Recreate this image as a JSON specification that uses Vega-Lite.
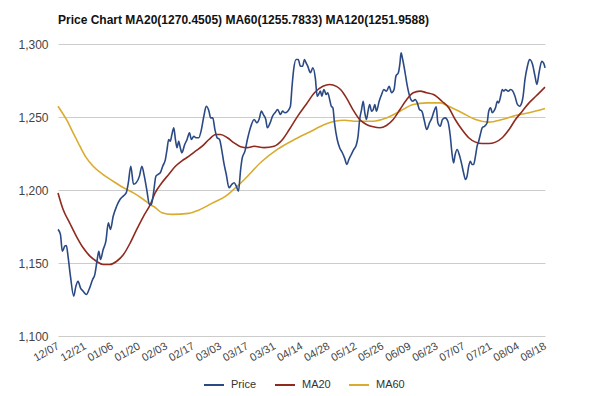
{
  "$schema": "https://vega.github.io/schema/vega-lite/v6.json",
  "width": 487,
  "height": 292,
  "autosize": {"type": "none"},
  "padding": {"left": 58, "top": 44, "right": 55, "bottom": 60},
  "background": "white",
  "title": {
    "text": "Price Chart MA20(1270.4505) MA60(1255.7833) MA120(1251.9588)",
    "anchor": "start",
    "frame": "group",
    "font": "Liberation Sans",
    "fontSize": 12,
    "fontWeight": "bold",
    "color": "#111111",
    "offset": 11
  },
  "config": {
    "view": {"stroke": null},
    "font": "Liberation Sans"
  },
  "datasets": {
    "price": [
      {"i":0,"v":1173},{"i":0.9,"v":1169.6},{"i":1.6,"v":1158},{"i":2.5,"v":1161.5},{"i":3.1,"v":1162},{"i":3.7,"v":1154.7},{"i":4.6,"v":1141},{"i":5.8,"v":1127.3},{"i":6.6,"v":1134},{"i":7.4,"v":1137.5},{"i":8.3,"v":1133},{"i":9.3,"v":1130.7},{"i":10.5,"v":1128.4},{"i":11.5,"v":1132},{"i":12.8,"v":1138.7},{"i":13.6,"v":1142},{"i":14.5,"v":1152.4},{"i":15.1,"v":1158},{"i":15.7,"v":1152.4},{"i":16.7,"v":1159.2},{"i":17.7,"v":1165},{"i":18.6,"v":1177.5},{"i":19.4,"v":1173},{"i":20.4,"v":1182},{"i":21.7,"v":1189},{"i":22.9,"v":1193.5},{"i":24.2,"v":1196},{"i":25.2,"v":1198},{"i":26,"v":1205},{"i":26.9,"v":1216.3},{"i":27.9,"v":1204},{"i":28.9,"v":1205},{"i":30.1,"v":1209.5},{"i":31,"v":1216.3},{"i":31.9,"v":1209.5},{"i":32.8,"v":1200.3},{"i":33.8,"v":1190},{"i":34.5,"v":1190},{"i":35.3,"v":1198},{"i":36.2,"v":1209.5},{"i":36.9,"v":1210.6},{"i":37.8,"v":1211.8},{"i":38.7,"v":1216.3},{"i":39.7,"v":1221},{"i":40.3,"v":1227.7},{"i":40.9,"v":1234.6},{"i":41.5,"v":1233.4},{"i":42.1,"v":1238},{"i":42.8,"v":1242.6},{"i":43.4,"v":1234.6},{"i":44,"v":1229},{"i":44.6,"v":1233.4},{"i":45.2,"v":1229},{"i":45.8,"v":1225.5},{"i":46.8,"v":1231},{"i":47.7,"v":1234.6},{"i":48.6,"v":1239.2},{"i":49.3,"v":1234.6},{"i":50.2,"v":1236.8},{"i":51,"v":1235.8},{"i":52,"v":1235.8},{"i":53,"v":1241.4},{"i":53.9,"v":1250.5},{"i":54.8,"v":1257.4},{"i":55.8,"v":1254},{"i":56.4,"v":1249.4},{"i":57.2,"v":1249.4},{"i":58,"v":1241.4},{"i":58.8,"v":1235.8},{"i":59.7,"v":1234.6},{"i":60.5,"v":1227.7},{"i":61.3,"v":1218.6},{"i":62.2,"v":1210.6},{"i":63.2,"v":1201.5},{"i":64.2,"v":1203.8},{"i":65.1,"v":1205},{"i":65.9,"v":1202.6},{"i":66.7,"v":1199.2},{"i":67.5,"v":1214},{"i":68.1,"v":1222},{"i":69.1,"v":1226.6},{"i":70,"v":1234.6},{"i":71.3,"v":1243.7},{"i":72.5,"v":1248.3},{"i":73.5,"v":1246},{"i":74.3,"v":1248.3},{"i":75.2,"v":1254},{"i":75.9,"v":1251.7},{"i":76.8,"v":1248.3},{"i":77.4,"v":1242.6},{"i":78.4,"v":1246},{"i":79.3,"v":1250.6},{"i":80.2,"v":1252.9},{"i":81.2,"v":1255.1},{"i":82.2,"v":1251.7},{"i":83,"v":1254},{"i":83.9,"v":1252.9},{"i":84.9,"v":1254},{"i":85.9,"v":1257.4},{"i":86.5,"v":1271},{"i":87.1,"v":1282.5},{"i":88,"v":1289.4},{"i":88.8,"v":1289.4},{"i":89.6,"v":1284.8},{"i":90.4,"v":1284.8},{"i":91.1,"v":1289.4},{"i":91.7,"v":1287.1},{"i":92.3,"v":1284.8},{"i":93.3,"v":1280.3},{"i":94.2,"v":1283.7},{"i":95.1,"v":1276.8},{"i":95.8,"v":1264.2},{"i":96.3,"v":1265.4},{"i":97,"v":1267.7},{"i":97.5,"v":1264.2},{"i":98.3,"v":1268.8},{"i":99.1,"v":1265.4},{"i":99.7,"v":1266.6},{"i":100.4,"v":1262},{"i":101,"v":1257.4},{"i":101.6,"v":1256.3},{"i":102.2,"v":1246},{"i":103.2,"v":1234.6},{"i":104.1,"v":1229},{"i":105.1,"v":1225.5},{"i":105.9,"v":1222},{"i":106.8,"v":1217.5},{"i":107.5,"v":1220.9},{"i":108.4,"v":1224.3},{"i":109.3,"v":1227.7},{"i":110.3,"v":1231.2},{"i":110.9,"v":1236.8},{"i":111.5,"v":1248.3},{"i":112.2,"v":1255.1},{"i":112.8,"v":1260.8},{"i":113.4,"v":1252.9},{"i":114,"v":1248.3},{"i":114.6,"v":1254},{"i":115.2,"v":1258.6},{"i":115.9,"v":1254},{"i":116.5,"v":1255.1},{"i":117.1,"v":1258.6},{"i":117.7,"v":1254},{"i":118.7,"v":1260.8},{"i":119.6,"v":1265.4},{"i":120.4,"v":1268.8},{"i":121.4,"v":1267.7},{"i":122.4,"v":1271},{"i":123.3,"v":1266.6},{"i":124.2,"v":1268.8},{"i":124.9,"v":1278},{"i":125.8,"v":1280.3},{"i":126.4,"v":1287.1},{"i":126.8,"v":1294},{"i":127.4,"v":1289.4},{"i":128.3,"v":1280.3},{"i":128.9,"v":1273.4},{"i":129.5,"v":1267.7},{"i":130.4,"v":1262},{"i":131.1,"v":1260.8},{"i":132,"v":1262},{"i":132.8,"v":1259.7},{"i":133.6,"v":1255.1},{"i":134.5,"v":1254},{"i":135.3,"v":1248.3},{"i":136.3,"v":1241.4},{"i":137.3,"v":1246},{"i":138.2,"v":1249.4},{"i":139,"v":1254},{"i":139.8,"v":1257},{"i":140.4,"v":1246},{"i":141.3,"v":1243.7},{"i":142.1,"v":1248.3},{"i":143.1,"v":1249.4},{"i":144.1,"v":1247.1},{"i":145,"v":1236.8},{"i":145.6,"v":1225.5},{"i":146.2,"v":1218.6},{"i":146.8,"v":1224.3},{"i":147.5,"v":1227.7},{"i":148.3,"v":1224.3},{"i":149.1,"v":1218.6},{"i":149.9,"v":1211.8},{"i":150.6,"v":1207.2},{"i":151.2,"v":1209.5},{"i":151.8,"v":1216.3},{"i":152.4,"v":1219.7},{"i":153,"v":1217.5},{"i":153.6,"v":1217.5},{"i":154.3,"v":1223.2},{"i":154.9,"v":1230},{"i":155.5,"v":1233.4},{"i":156.1,"v":1238},{"i":156.8,"v":1242.6},{"i":157.7,"v":1243.7},{"i":158.6,"v":1246},{"i":159.2,"v":1254},{"i":159.9,"v":1256.3},{"i":160.5,"v":1252.9},{"i":161.1,"v":1254},{"i":161.7,"v":1256.3},{"i":162.4,"v":1260.8},{"i":162.9,"v":1259.7},{"i":163.6,"v":1264.2},{"i":164.2,"v":1268.8},{"i":164.8,"v":1267.7},{"i":165.4,"v":1268.8},{"i":166.4,"v":1267.7},{"i":167.3,"v":1268.8},{"i":168.1,"v":1267.7},{"i":168.9,"v":1264.2},{"i":169.8,"v":1258.6},{"i":170.6,"v":1257.4},{"i":171.4,"v":1259.7},{"i":171.9,"v":1264.2},{"i":172.6,"v":1275.7},{"i":173.5,"v":1284.8},{"i":174.3,"v":1289.4},{"i":175.4,"v":1286},{"i":176.3,"v":1278},{"i":177,"v":1272.3},{"i":177.8,"v":1280.3},{"i":178.8,"v":1288.2},{"i":179.7,"v":1286},{"i":180,"v":1283.7}
    ],
    "ma20": [
      {"i":0,"v":1198},{"i":1.9,"v":1186.6},{"i":4.3,"v":1177.5},{"i":6.8,"v":1168.3},{"i":9.3,"v":1160.4},{"i":11.8,"v":1154.7},{"i":14.2,"v":1151.2},{"i":16.7,"v":1149},{"i":19.2,"v":1149},{"i":21.7,"v":1151.2},{"i":24.2,"v":1155.8},{"i":26.7,"v":1163.8},{"i":29.1,"v":1173},{"i":31.6,"v":1182},{"i":34.1,"v":1190},{"i":35.9,"v":1198},{"i":38.4,"v":1205},{"i":40.9,"v":1210.6},{"i":43.4,"v":1216.3},{"i":45.8,"v":1220},{"i":48.3,"v":1223},{"i":50.8,"v":1226.6},{"i":53.3,"v":1230},{"i":55.8,"v":1234.6},{"i":58.3,"v":1238},{"i":60.1,"v":1238},{"i":62.6,"v":1235.8},{"i":65.1,"v":1232.3},{"i":67.5,"v":1229.6},{"i":70,"v":1229},{"i":72.5,"v":1230},{"i":76.2,"v":1229},{"i":79.9,"v":1230},{"i":83,"v":1234.6},{"i":85.5,"v":1241.4},{"i":88.6,"v":1250.6},{"i":91.7,"v":1258.6},{"i":94.8,"v":1266.6},{"i":97.9,"v":1271},{"i":100.4,"v":1272.3},{"i":102.9,"v":1271},{"i":104.6,"v":1268.5},{"i":106.6,"v":1263.1},{"i":109,"v":1255.1},{"i":111.5,"v":1248.3},{"i":114,"v":1244.9},{"i":116.5,"v":1243.3},{"i":119,"v":1242.6},{"i":121.4,"v":1244.2},{"i":123.9,"v":1248.3},{"i":126.4,"v":1255.1},{"i":128.9,"v":1262},{"i":131.3,"v":1266.6},{"i":133.8,"v":1267.7},{"i":136.3,"v":1266.6},{"i":138.8,"v":1265.4},{"i":141.9,"v":1260.8},{"i":144.4,"v":1256.3},{"i":146.8,"v":1248.3},{"i":149.3,"v":1241.4},{"i":151.8,"v":1235.8},{"i":154.3,"v":1232.8},{"i":156.8,"v":1231.8},{"i":159.2,"v":1231.8},{"i":161.7,"v":1232.8},{"i":164.2,"v":1235.8},{"i":166.7,"v":1241.4},{"i":169.1,"v":1248.3},{"i":171.6,"v":1254},{"i":174.1,"v":1259.7},{"i":176.6,"v":1264.2},{"i":180,"v":1270.5}
    ],
    "ma60": [
      {"i":0,"v":1257.4},{"i":3.1,"v":1248.3},{"i":5.6,"v":1239.2},{"i":8.1,"v":1230},{"i":10.5,"v":1222},{"i":13,"v":1216.3},{"i":16.7,"v":1210.6},{"i":20.4,"v":1206},{"i":24.2,"v":1201.5},{"i":27.9,"v":1198},{"i":31.6,"v":1193.5},{"i":34.1,"v":1190},{"i":35.9,"v":1188},{"i":38.4,"v":1184.4},{"i":42.1,"v":1183.3},{"i":48.3,"v":1184},{"i":52,"v":1186.2},{"i":57,"v":1191},{"i":62,"v":1195.8},{"i":64.4,"v":1199.5},{"i":68.8,"v":1207},{"i":75,"v":1219},{"i":81.2,"v":1228},{"i":87.4,"v":1234.6},{"i":93.6,"v":1240.3},{"i":98.5,"v":1244.9},{"i":102.2,"v":1247.1},{"i":105.9,"v":1247.8},{"i":110.3,"v":1247.1},{"i":116.5,"v":1247.1},{"i":121.4,"v":1249.4},{"i":126.4,"v":1254},{"i":131.3,"v":1258.6},{"i":136.3,"v":1259.7},{"i":141.3,"v":1259.7},{"i":144.4,"v":1257.4},{"i":149.3,"v":1252.9},{"i":154.3,"v":1248.3},{"i":159.2,"v":1246.5},{"i":164.2,"v":1248.3},{"i":169.1,"v":1251},{"i":174.1,"v":1252.9},{"i":180,"v":1255.8}
    ]
  },
  "encoding": {
    "x": {
      "field": "i",
      "type": "quantitative",
      "scale": {"domain": [0, 180], "nice": false, "zero": false},
      "axis": {
        "title": null,
        "values": [0,10,20,30,40,50,60,70,80,90,100,110,120,130,140,150,160,170,180],
        "labelExpr": "['12/07','12/21','01/06','01/20','02/03','02/17','03/03','03/17','03/31','04/14','04/28','05/12','05/26','06/09','06/23','07/07','07/21','08/04','08/18'][round(datum.value/10)]",
        "labelAngle": -30,
        "labelAlign": "right",
        "labelBaseline": "middle",
        "labelPadding": 9,
        "labelFontSize": 11,
        "labelColor": "#444444",
        "labelFont": "Liberation Sans",
        "labelOverlap": false,
        "labelFlush": false,
        "grid": false,
        "ticks": false,
        "domain": false
      }
    },
    "y": {
      "field": "v",
      "type": "quantitative",
      "scale": {"domain": [1100, 1300], "nice": false, "zero": false},
      "axis": {
        "title": null,
        "values": [1100, 1150, 1200, 1250, 1300],
        "format": ",.0f",
        "labelFontSize": 12,
        "labelColor": "#444444",
        "labelFont": "Liberation Sans",
        "labelPadding": 10,
        "grid": true,
        "gridColor": "#cccccc",
        "gridWidth": 1,
        "ticks": false,
        "domain": false
      }
    },
    "color": {
      "scale": {
        "domain": ["Price", "MA20", "MA60"],
        "range": ["#2b4a85", "#8e2b1e", "#d9ab2e"]
      },
      "legend": {
        "title": null,
        "orient": "none",
        "legendX": 145,
        "legendY": 330,
        "direction": "horizontal",
        "symbolType": "stroke",
        "symbolSize": 400,
        "symbolStrokeWidth": 2,
        "labelFontSize": 11,
        "labelColor": "#333333",
        "labelFont": "Liberation Sans",
        "labelOffset": 6,
        "columnPadding": 14
      }
    }
  },
  "layer": [
    {
      "data": {"name": "ma60"},
      "mark": {"type": "line", "strokeWidth": 1.6, "interpolate": "monotone"},
      "encoding": {"color": {"datum": "MA60"}}
    },
    {
      "data": {"name": "ma20"},
      "mark": {"type": "line", "strokeWidth": 1.6, "interpolate": "monotone"},
      "encoding": {"color": {"datum": "MA20"}}
    },
    {
      "data": {"name": "price"},
      "mark": {"type": "line", "strokeWidth": 1.6, "interpolate": "monotone"},
      "encoding": {"color": {"datum": "Price"}}
    }
  ]
}
